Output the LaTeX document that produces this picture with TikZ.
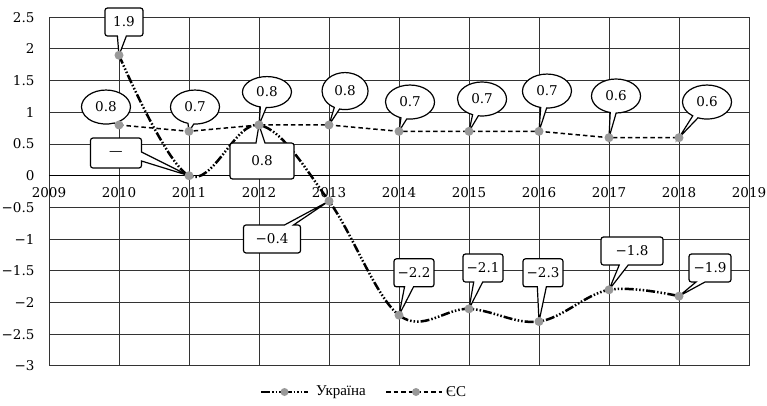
\documentclass[tikz,border=0pt]{standalone}
\usepackage{fontspec}
\setmainfont{DejaVu Serif}
\newfontfamily\legendfont{Liberation Serif}
\usetikzlibrary{shapes.callouts, positioning}
\tikzset{
  gridline/.style={line width=0.9pt, black!80}, % grid of the chart
  dot/.style={circle, fill=gray!80, inner sep=0pt, minimum size=9pt},
  ukrline/.style={line width=2.5pt, dash pattern=on 9pt off 2pt on 1.5pt off 2pt on 1.5pt off 2pt on 1.5pt off 2pt},
  euline/.style={line width=1.5pt, dash pattern=on 4.5pt off 3pt},
  numtext/.style={font=\fontsize{13.5}{14}\selectfont},
  boxcall/.style={rectangle callout, draw, line width=1.2pt, fill=white, rounded corners=2.5pt,
    numtext, inner sep=1pt, minimum width=40pt, minimum height=28pt, callout pointer width=9pt},
  ellcall/.style={ellipse callout, draw, line width=1.2pt, fill=white,
    numtext, inner sep=0pt, minimum width=49pt, minimum height=34pt, callout pointer arc=14},
}

\begin{document}
\begin{tikzpicture}[x=1pt, y=1pt]
  \useasboundingbox (0,0) rectangle (767,405);

  \begin{scope}[shift={(49,229.3)}, x=70pt, y=63.4pt]
    % grid
    \foreach \k in {0,...,11}
      \draw[gridline] (0,{\k*0.5-3}) -- (10,{\k*0.5-3});
    \foreach \k in {0,...,10}
      \draw[gridline] (\k,-3) -- (\k,2.5);
    \draw[line width=1pt] (0,0) -- (10,0);

    % axis labels
    \foreach \v/\t [count=\i] in {2.5/2.5, 2/2, 1.5/1.5, 1/1, 0.5/0.5, 0/0, -0.5/−0.5,
        -1/−1, -1.5/−1.5, -2/−2, -2.5/−2.5, -3/−3}
      \node[numtext, anchor=east, xshift=-11pt] (ylab\i) at (0,\v) {\t};
    \foreach \yr [count=\i from 0] in {2009,...,2019}
      \node[numtext, anchor=base, yshift=-22pt] (xlab\yr) at (\i,0) {\yr};

    % data
    \foreach \n/\v [count=\i] in {10/1.9, 11/0, 12/0.8, 13/-0.4, 14/-2.2, 15/-2.1, 16/-2.3, 17/-1.8, 18/-1.9}
      \coordinate (u\n) at (\i,\v);
    \foreach \n/\v [count=\i] in {10/0.8, 11/0.7, 12/0.8, 13/0.8, 14/0.7, 15/0.7, 16/0.7, 17/0.6, 18/0.6}
      \coordinate (e\n) at (\i,\v);

    \draw[euline] (e10) -- (e11) -- (e12) -- (e13) -- (e14) -- (e15) -- (e16) -- (e17) -- (e18);
    \draw[ukrline] plot[smooth, tension=0.6] coordinates {(u10) (u11) (u12) (u13) (u14) (u15) (u16) (u17) (u18)};

    % callouts, Ukraine
    \node[boxcall, callout absolute pointer={(u10)}, minimum width=38pt] (cu10) at (1.071,2.424) {1.9};
    \node[boxcall, callout absolute pointer={(u11)}, minimum width=51pt, minimum height=30pt] (cu11) at (0.957,0.358) {—};
    \node[boxcall, callout absolute pointer={(u12)}, minimum width=64pt, minimum height=36pt] (cu12) at (3.043,0.232) {0.8};
    \node[boxcall, callout absolute pointer={(u13)}, minimum width=57pt] (cu13) at (3.186,-0.998) {−0.4};
    \node[boxcall, callout absolute pointer={(u14)}] (cu14) at (5.214,-1.532) {−2.2};
    \node[boxcall, callout absolute pointer={(u15)}] (cu15) at (6.2,-1.456) {−2.1};
    \node[boxcall, callout absolute pointer={(u16)}] (cu16) at (7.057,-1.532) {−2.3};
    \node[boxcall, callout absolute pointer={(u17)}, minimum width=62pt] (cu17) at (8.329,-1.188) {−1.8};
    \node[boxcall, callout absolute pointer={(u18)}, minimum width=42pt] (cu18) at (9.443,-1.456) {−1.9};

    % callouts, EU
    \node[ellcall, callout absolute pointer={(e10)}] (ce10) at (0.814,1.083) {0.8};
    \node[ellcall, callout absolute pointer={(e11)}] (ce11) at (2.086,1.083) {0.7};
    \node[ellcall, callout absolute pointer={(e12)}, minimum height=31pt] (ce12) at (3.114,1.319) {0.8};
    \node[ellcall, callout absolute pointer={(e13)}, minimum width=46pt, minimum height=37pt] (ce13) at (4.229,1.335) {0.8};
    \node[ellcall, callout absolute pointer={(e14)}] (ce14) at (5.157,1.162) {0.7};
    \node[ellcall, callout absolute pointer={(e15)}] (ce15) at (6.186,1.21) {0.7};
    \node[ellcall, callout absolute pointer={(e16)}] (ce16) at (7.114,1.335) {0.7};
    \node[ellcall, callout absolute pointer={(e17)}] (ce17) at (8.1,1.257) {0.6};
    \node[ellcall, callout absolute pointer={(e18)}] (ce18) at (9.4,1.162) {0.6};

    \foreach \n in {10,...,18} {
      \node[dot] (du\n) at (u\n) {};
      \node[dot] (de\n) at (e\n) {};
    }
  \end{scope}

  % legend
  \coordinate (lu0) at (261,13);
  \coordinate (lu1) at (308,13);
  \draw[ukrline, line width=2pt] (lu0) -- (lu1);
  \node[dot, minimum size=8pt] (lud) at (284.5,13) {};
  \node[anchor=west, inner sep=0pt, font=\legendfont\fontsize{15}{16}\selectfont] (lut) at (316,13) {Україна};

  \coordinate (le0) at (386,13);
  \coordinate (le1) at (442,13);
  \draw[euline, line width=1.3pt] (le0) -- (le1);
  \node[dot, minimum size=8pt] (led) at (416,13) {};
  \node[anchor=west, inner sep=0pt, font=\legendfont\fontsize{15}{16}\selectfont] (let) at (446,13) {ЄС};
\end{tikzpicture}
\end{document}
